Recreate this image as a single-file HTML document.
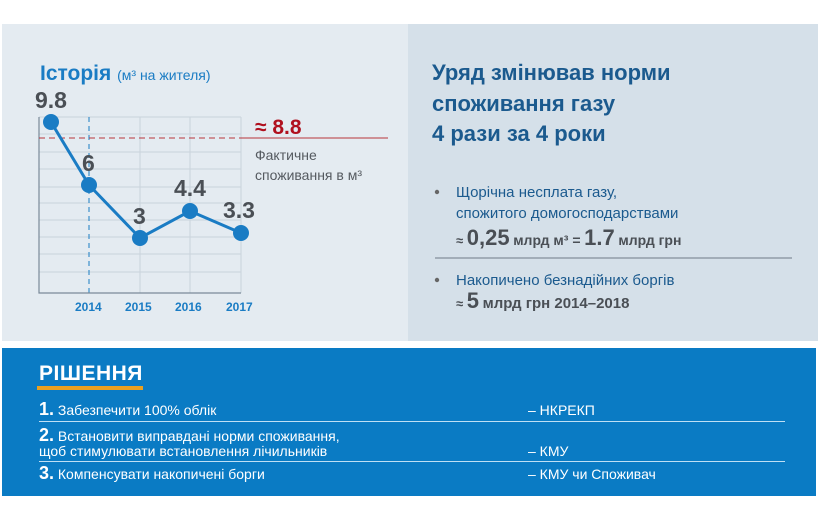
<!DOCTYPE html>
<html><head><meta charset="utf-8"><style>
body{margin:0;width:818px;height:515px;background:#fff;position:relative;overflow:hidden;font-family:"Liberation Sans","DejaVu Sans",sans-serif}
.a{position:absolute;white-space:nowrap}
</style></head><body>
<div class="a" style="left:2px;top:24px;width:406px;height:317px;background:#e4ebf1"></div>
<div class="a" style="left:408px;top:24px;width:410px;height:317px;background:#d5e0e9"></div>
<svg class="a" style="left:0;top:0" width="818" height="345">
<g stroke="#c9d3dc" stroke-width="1">
<line x1="39" y1="117" x2="241" y2="117"/><line x1="39" y1="134" x2="241" y2="134"/><line x1="39" y1="152" x2="241" y2="152"/><line x1="39" y1="169" x2="241" y2="169"/><line x1="39" y1="187" x2="241" y2="187"/><line x1="39" y1="203" x2="241" y2="203"/><line x1="39" y1="220" x2="241" y2="220"/><line x1="39" y1="237" x2="241" y2="237"/><line x1="39" y1="254" x2="241" y2="254"/><line x1="39" y1="272" x2="241" y2="272"/>
<line x1="140" y1="117" x2="140" y2="293"/><line x1="190" y1="117" x2="190" y2="293"/><line x1="241" y1="117" x2="241" y2="293"/>
</g>
<line x1="89" y1="117" x2="89" y2="293" stroke="#1a7cc4" stroke-dasharray="5,4"/>
<polyline points="39,117 39,293 241,293" fill="none" stroke="#7a8a99" stroke-width="1.2"/>
<line x1="39" y1="138" x2="241" y2="138" stroke="#b8343c" stroke-dasharray="6,4"/>
<line x1="241" y1="138" x2="388" y2="138" stroke="#b8343c"/>
<polyline points="51,122 89,185 140,238 190,211 241,233" fill="none" stroke="#1a7cc4" stroke-width="3"/>
<g fill="#1a7cc4"><circle cx="51" cy="122" r="8"/><circle cx="89" cy="185" r="8"/><circle cx="140" cy="238" r="8"/><circle cx="190" cy="211" r="8"/><circle cx="241" cy="233" r="8"/></g>
<g font-family="Liberation Sans,sans-serif" font-weight="bold" fill="#4a4f55" font-size="23">
<text x="35" y="108">9.8</text><text x="82" y="171">6</text><text x="133" y="224">3</text><text x="174" y="196">4.4</text><text x="223" y="218">3.3</text></g>
<g font-family="Liberation Sans,sans-serif" font-weight="bold" fill="#1a7cc4" font-size="12">
<text x="75" y="311">2014</text><text x="125" y="311">2015</text><text x="175" y="311">2016</text><text x="226" y="311">2017</text></g>
<text x="255" y="134" font-family="Liberation Sans,sans-serif" font-weight="bold" font-size="21" fill="#b0101e">≈ 8.8</text>
<text x="255" y="160" font-family="Liberation Sans,sans-serif" font-size="14" fill="#555a60">Фактичне</text>
<text x="255" y="180" font-family="Liberation Sans,sans-serif" font-size="14" fill="#555a60">споживання в м³</text>
<text x="40" y="80" font-family="Liberation Sans,sans-serif" font-weight="bold" font-size="21" fill="#1a7cc4">Історія <tspan font-size="14" font-weight="normal">(м³ на жителя)</tspan></text>
<g font-family="Liberation Sans,sans-serif" font-weight="bold" font-size="22" fill="#1b5a8e">
<text x="432" y="80">Уряд змінював норми</text><text x="432" y="111">споживання газу</text><text x="432" y="141">4 рази за 4 роки</text></g>
<g font-family="Liberation Sans,sans-serif" font-size="15" fill="#1b5a8e">
<text x="456" y="197">Щорічна несплата газу,</text><text x="456" y="218">спожитого домогосподарствами</text><text x="456" y="285">Накопичено безнадійних боргів</text></g>
<g fill="#666"><circle cx="437" cy="192" r="2.2"/><circle cx="437" cy="280" r="2.2"/></g>
<g font-family="Liberation Sans,sans-serif" font-weight="bold" fill="#4a4f55">
<text x="456" y="245" font-size="13">≈ <tspan font-size="22">0,25</tspan> <tspan font-size="14">млрд м³ =</tspan> <tspan font-size="22">1.7</tspan> <tspan font-size="14">млрд грн</tspan></text>
<text x="456" y="308" font-size="13">≈ <tspan font-size="22">5</tspan> <tspan font-size="15">млрд грн 2014–2018</tspan></text></g>
<line x1="435" y1="258" x2="792" y2="258" stroke="#6e7a86" stroke-width="1"/>
</svg>
<div class="a" style="left:2px;top:348px;width:814px;height:148px;background:#0a7bc4"></div>
<div class="a" style="left:39px;top:362px;color:#fff;font-weight:bold;font-size:21px;letter-spacing:0.5px">РІШЕННЯ</div>
<div class="a" style="left:37px;top:386px;width:106px;height:4px;background:#e8a020"></div>
<div class="a" style="left:39px;top:421px;width:746px;height:1px;background:#bfe0f5"></div>
<div class="a" style="left:39px;top:461px;width:746px;height:1px;background:#bfe0f5"></div>
<div class="a" style="left:39px;top:399px;color:#fff;font-size:14px"><b style="font-size:18px">1.</b> Забезпечити 100% облік</div>
<div class="a" style="left:39px;top:425px;color:#fff;font-size:14px"><b style="font-size:18px">2.</b> Встановити виправдані норми споживання,</div>
<div class="a" style="left:39px;top:443px;color:#fff;font-size:14px">щоб стимулювати встановлення лічильників</div>
<div class="a" style="left:39px;top:463px;color:#fff;font-size:14px"><b style="font-size:18px">3.</b> Компенсувати накопичені борги</div>
<div class="a" style="left:528px;top:402px;color:#fff;font-size:14px">– НКРЕКП</div>
<div class="a" style="left:528px;top:443px;color:#fff;font-size:14px">– КМУ</div>
<div class="a" style="left:528px;top:466px;color:#fff;font-size:14px">– КМУ чи Споживач</div>
</body></html>
